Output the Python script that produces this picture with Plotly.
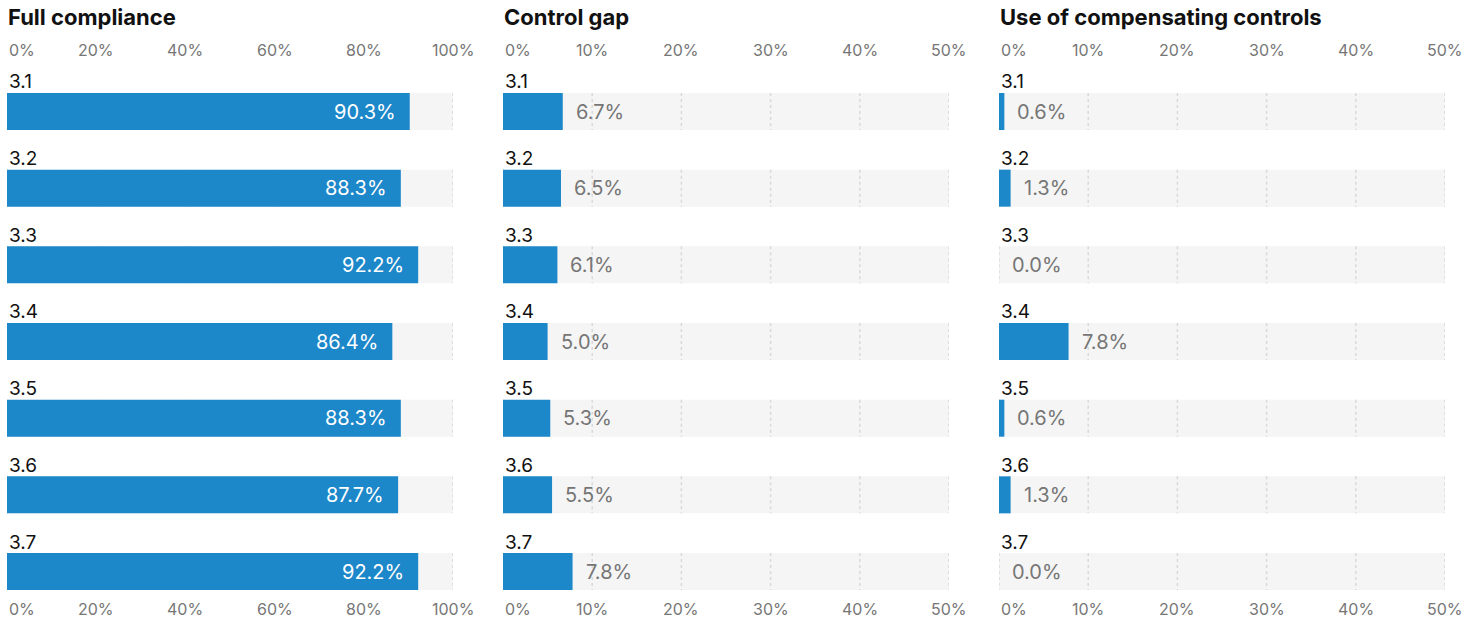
import plotly.graph_objects as go

# ---- data ----
categories = ["3.1", "3.2", "3.3", "3.4", "3.5", "3.6", "3.7"]
full_compliance = [90.3, 88.3, 92.2, 86.4, 88.3, 87.7, 92.2]
control_gap = [6.7, 6.5, 6.1, 5.0, 5.3, 5.5, 7.8]
compensating = [0.6, 1.3, 0.0, 7.8, 0.6, 1.3, 0.0]

panel_titles = ["Full compliance", "Control gap", "Use of compensating controls"]
ticks_100 = [0, 20, 40, 60, 80, 100]
ticks_50 = [0, 10, 20, 30, 40, 50]

# ---- style ----
W, H = 1480, 620
BLUE = "#1c87c9"
BG = "#f5f5f5"
GRID = "#d9d9d9"
GREY_TXT = "#767676"
FONT = "Inter"

panels = [
    dict(values=full_compliance, title=panel_titles[0], ticks=ticks_100, xmax=100, inside=True, px=(7, 453)),
    dict(values=control_gap, title=panel_titles[1], ticks=ticks_50, xmax=50, inside=False, px=(503, 949)),
    dict(values=compensating, title=panel_titles[2], ticks=ticks_50, xmax=50, inside=False, px=(999, 1445)),
]

ROW0 = 111.5      # pixel centre of first bar
ROWSTEP = 76.67   # pixel spacing between rows
BARH = 37 / ROWSTEP
yr = [(H - ROW0) / ROWSTEP, (0 - ROW0) / ROWSTEP]


def ypaper(p):
    return 1 - p / H


fig = go.Figure()
shapes = []
annotations = []
n = len(categories)
rows = list(range(n))

for k, p in enumerate(panels):
    sfx = "" if k == 0 else str(k + 1)
    xref = "x" + sfx
    yref = "y" + sfx
    a, b = p["px"]
    fig.update_layout(**{
        "xaxis" + sfx: dict(domain=[a / W, b / W], range=[0, p["xmax"]],
                            showgrid=False, zeroline=False, showticklabels=False,
                            showline=False, fixedrange=True, anchor=yref),
        "yaxis" + sfx: dict(domain=[0, 1], range=yr, showgrid=False, zeroline=False,
                            showticklabels=False, showline=False, fixedrange=True, anchor=xref),
    })
    for i in rows:
        shapes.append(dict(type="rect", xref=xref, yref=yref, x0=0, x1=p["xmax"],
                           y0=i - BARH / 2, y1=i + BARH / 2, fillcolor=BG,
                           line=dict(width=0), layer="below"))
        for t in p["ticks"]:
            shapes.append(dict(type="line", xref=xref, yref=yref, x0=t, x1=t,
                               y0=i - BARH / 2, y1=i + BARH / 2,
                               line=dict(color=GRID, width=1.5, dash="3px,3px"), layer="below"))
    fig.add_trace(go.Bar(x=p["values"], y=rows, orientation="h", width=BARH,
                         marker=dict(color=BLUE, line=dict(width=0)),
                         xaxis=xref, yaxis=yref, hoverinfo="skip", showlegend=False))
    for i, (c, v) in enumerate(zip(categories, p["values"])):
        annotations.append(dict(text=c, xref=xref, yref=yref, x=0, y=i - 0.385,
                                xanchor="left", yanchor="middle", showarrow=False,
                                font=dict(family=FONT, size=19, color="#111111")))
        if p["inside"]:
            annotations.append(dict(text=f"{v:.1f}%", xref=xref, yref=yref, x=v, y=i,
                                    xanchor="right", yanchor="middle", xshift=-12, showarrow=False,
                                    font=dict(family=FONT, size=20, color="white")))
        else:
            annotations.append(dict(text=f"{v:.1f}%", xref=xref, yref=yref, x=v, y=i,
                                    xanchor="left", yanchor="middle", xshift=11, showarrow=False,
                                    font=dict(family=FONT, size=20, color=GREY_TXT)))
    for j, t in enumerate(p["ticks"]):
        for ypx in (50, 609):
            annotations.append(dict(text=f"{t}%", xref=xref, yref="paper", x=t, y=ypaper(ypx),
                                    xanchor="left" if j == 0 else "center", yanchor="middle",
                                    showarrow=False,
                                    font=dict(family=FONT, size=16, color=GREY_TXT)))
    annotations.append(dict(text=f"<b>{p['title']}</b>", xref="paper", yref="paper",
                            x=(a - 1) / W, y=ypaper(17), xanchor="left", yanchor="middle",
                            showarrow=False, font=dict(family=FONT, size=22, color="#111111")))

fig.update_layout(width=W, height=H, margin=dict(l=0, r=0, t=0, b=0),
                  paper_bgcolor="white", plot_bgcolor="white", barmode="overlay",
                  shapes=shapes, annotations=annotations, showlegend=False)

fig.write_html("out.html", config={"displayModeBar": False},
               post_script="document.body.style.margin='0';document.body.style.overflow='hidden';")
